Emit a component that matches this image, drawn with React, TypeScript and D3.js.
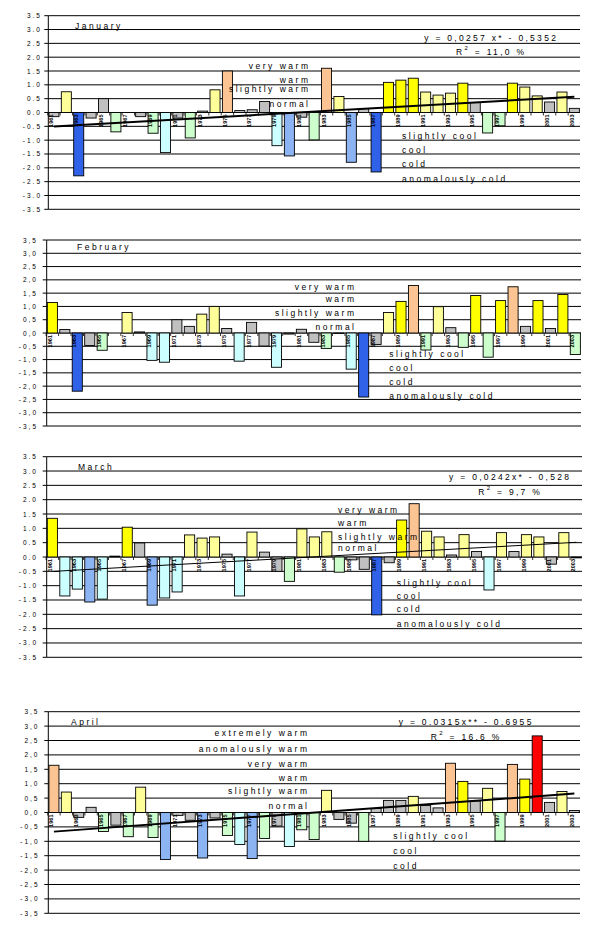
import React from 'react';
import * as d3 from 'd3';

// ---------- data ----------
const YEARS: number[] = d3.range(1961, 2004);

const Y_TICKS = [3.5, 3.0, 2.5, 2.0, 1.5, 1.0, 0.5, 0.0, -0.5, -1.0, -1.5, -2.0, -2.5, -3.0, -3.5];

const JAN_VALUES = [-0.15, 0.75, -2.29, -0.2, 0.5, -0.7, 0, -0.15, -0.75, -1.45, -0.2, -0.92, 0.05, 0.82, 1.5, 0.07, 0.1, 0.4, -1.2, -1.57, -0.17, -0.99, 1.6, 0.58, -1.8, 0.14, -2.15, 1.09, 1.17, 1.24, 0.74, 0.63, 0.7, 1.06, 0.36, -0.74, -0.48, 1.06, 0.92, 0.6, 0.38, 0.74, 0.15];
const JAN_CLASSES = ['n', 'sw', 'ac', 'n', 'n', 'sc', 'n', 'n', 'sc', 'c', 'n', 'sc', 'n', 'sw', 'vw', 'n', 'n', 'n', 'c', 'cd', 'n', 'sc', 'vw', 'sw', 'cd', 'n', 'ac', 'w', 'w', 'w', 'sw', 'sw', 'sw', 'w', 'n', 'sc', 'sc', 'w', 'sw', 'sw', 'n', 'sw', 'n'];

const FEB_VALUES = [1.15, 0.13, -2.19, -0.47, -0.65, 0, 0.77, 0.04, -1.03, -1.1, 0.5, 0.25, 0.71, 1.0, 0.17, -1.06, 0.4, -0.49, -1.29, -0.04, 0.14, -0.35, -0.58, -0.02, -1.36, -2.41, -0.43, 0.77, 1.19, 1.79, -0.64, 0.99, 0.2, -0.54, 1.41, -0.91, 1.22, 1.74, 0.25, 1.22, 0.17, 1.45, -0.81];
const FEB_CLASSES = ['w', 'n', 'ac', 'n', 'sc', 'n', 'sw', 'n', 'c', 'c', 'n', 'n', 'sw', 'sw', 'n', 'c', 'n', 'n', 'c', 'n', 'n', 'n', 'sc', 'n', 'c', 'ac', 'n', 'sw', 'w', 'vw', 'sc', 'sw', 'n', 'sc', 'w', 'sc', 'w', 'vw', 'n', 'w', 'n', 'w', 'sc'];

const MAR_VALUES = [1.35, -1.36, -1.12, -1.57, -1.47, 0.03, 1.04, 0.49, -1.68, -1.43, -1.22, 0.77, 0.66, 0.7, 0.1, -1.36, 0.87, 0.17, -0.5, -0.85, 0.98, 0.7, 0.88, -0.53, -0.1, -0.43, -2.02, -0.2, 1.29, 1.86, 0.9, 0.7, 0.07, 0.78, 0.19, -1.15, 0.85, 0.19, 0.78, 0.7, -0.25, 0.85, -0.03];
const MAR_CLASSES = ['w', 'c', 'c', 'cd', 'c', 'n', 'w', 'n', 'cd', 'c', 'c', 'sw', 'sw', 'sw', 'n', 'c', 'sw', 'n', 'n', 'sc', 'sw', 'sw', 'sw', 'sc', 'n', 'n', 'ac', 'n', 'w', 'vw', 'sw', 'sw', 'n', 'sw', 'n', 'c', 'sw', 'n', 'sw', 'sw', 'n', 'sw', 'n'];

const APR_VALUES = [1.64, 0.71, -0.17, 0.18, -0.66, -0.44, -0.84, 0.88, -0.87, -1.63, -0.1, -0.27, -1.58, -0.19, -0.8, -1.11, -1.6, -0.9, -0.47, -1.18, -0.6, -0.94, 0.77, -0.24, -0.37, -1.0, 0.14, 0.42, 0.42, 0.56, 0.24, 0.16, 1.71, 1.08, 0.4, 0.84, -0.99, 1.67, 1.16, 2.66, 0.35, 0.73, 0.07];
const APR_CLASSES = ['vw', 'sw', 'n', 'n', 'sc', 'n', 'sc', 'sw', 'sc', 'cd', 'n', 'n', 'cd', 'n', 'sc', 'c', 'cd', 'sc', 'n', 'c', 'sc', 'sc', 'sw', 'n', 'n', 'sc', 'n', 'n', 'n', 'sw', 'n', 'n', 'vw', 'w', 'n', 'sw', 'sc', 'vw', 'w', 'ew', 'n', 'sw', 'n'];

const JAN_TREND = { a: 0.0257, b: -0.5352 };
const MAR_TREND = { a: 0.0242, b: -0.528 };
const APR_TREND = { a: 0.0315, b: -0.6955 };

const JAN_EQ = ['y = 0,0257 x* - 0,5352', ' = 11,0 %'];
const MAR_EQ = ['y = 0,0242x* - 0,528', ' = 9,7 %'];
const APR_EQ = ['y = 0.0315x** - 0.6955', ' = 16.6 %'];

const UPPER_LABELS = ['very warm', 'warm', 'slightly warm', 'normal'];
const UPPER_LABELS_APR = ['extremely warm', 'anomalously warm', 'very warm', 'warm', 'slightly warm', 'normal'];
const LOWER_LABELS = ['slightly cool', 'cool', 'cold', 'anomalously cold'];
const LOWER_LABELS_APR = ['slightly cool', 'cool', 'cold'];

const COLORS: Record<string, string> = {
  n: '#C0C0C0',
  sw: '#FFFF99',
  w: '#FFFF00',
  vw: '#FCC393',
  ew: '#FF0000',
  sc: '#CCFFCC',
  c: '#CCFFFF',
  cd: '#8CB4F2',
  ac: '#2F62E8',
};

// ---------- layout ----------
const PANELS = [
  {
    name: 'January', values: JAN_VALUES, classes: JAN_CLASSES, dec: '.',
    top: 15.7, bottom: 209.3, x0: 48.3, x1: 580, tickR: 40,
    trend: JAN_TREND, trendW: 2, eq: JAN_EQ, eqPos: { x: 490, v1: 2.68, v2: 2.2 },
    titlePos: { x: 75, v: 3.13 },
    upper: { labels: UPPER_LABELS, anchor: 'end', x: 308, vs: [1.69, 1.175, 0.84, 0.3] },
    lower: { labels: LOWER_LABELS, x: 402, vs: [-0.85, -1.356, -1.86, -2.4] },
  },
  {
    name: 'February', values: FEB_VALUES, classes: FEB_CLASSES, dec: ',',
    top: 240, bottom: 426, x0: 46.7, x1: 581, tickR: 36,
    trend: null, trendW: 0, eq: null, eqPos: null,
    titlePos: { x: 77, v: 3.24 },
    upper: { labels: UPPER_LABELS, anchor: 'end', x: 354, vs: [1.74, 1.27, 0.76, 0.24] },
    lower: { labels: LOWER_LABELS, x: 389.3, vs: [-0.8, -1.31, -1.84, -2.36] },
  },
  {
    name: 'March', values: MAR_VALUES, classes: MAR_CLASSES, dec: '.',
    top: 456.7, bottom: 657.3, x0: 46.7, x1: 582, tickR: 36,
    trend: MAR_TREND, trendW: 1, eq: MAR_EQ, eqPos: { x: 509, v1: 2.8, v2: 2.28 },
    titlePos: { x: 78, v: 3.15 },
    upper: { labels: UPPER_LABELS, anchor: 'start', x: 338, vs: [1.63, 1.2, 0.7, 0.32] },
    lower: { labels: LOWER_LABELS, x: 396.7, vs: [-0.92, -1.35, -1.81, -2.34] },
  },
  {
    name: 'April', values: APR_VALUES, classes: APR_CLASSES, dec: ',',
    top: 711.7, bottom: 913.3, x0: 48.3, x1: 580, tickR: 37.5,
    trend: APR_TREND, trendW: 2, eq: APR_EQ, eqPos: { x: 465, v1: 3.13, v2: 2.63 },
    titlePos: { x: 71, v: 3.13 },
    upper: { labels: UPPER_LABELS_APR, anchor: 'end', x: 307, vs: [2.75, 2.19, 1.68, 1.19, 0.76, 0.24] },
    lower: { labels: LOWER_LABELS_APR, x: 393.3, vs: [-0.81, -1.34, -1.86] },
  },
];

const LS = 2.5; // letter spacing for labels

function fmt(v: number, dec: string) {
  const s = (v < 0 ? '-' : '') + Math.abs(v).toFixed(1);
  return s.replace('.', dec);
}

function Panel({ p }: { p: any }) {
  const y = d3.scaleLinear().domain([-3.5, 3.5]).range([p.bottom, p.top]);
  const x = d3.scaleBand<number>().domain(YEARS).range([p.x0, p.x1]).paddingInner(0.19).paddingOuter(0.05);
  const y0 = y(0);
  const bw = x.bandwidth();
  const step = x.step();
  const gridR = p.x1;

  const trendPts: [number, number][] = p.trend
    ? [1, YEARS.length].map((i) => [x(YEARS[i - 1])! + bw / 2, y(p.trend.a * i + p.trend.b)])
    : [];
  const line = d3.line();

  const endAdj = (anchor: string) => (anchor === 'end' ? LS : 0);

  return (
    <g>
      {/* gridlines */}
      {Y_TICKS.map((t) => (
        <line key={'g' + t} x1={p.x0} x2={gridR} y1={y(t)} y2={y(t)} stroke="#000" strokeWidth={1} />
      ))}
      {/* y axis */}
      <line x1={p.x0} x2={p.x0} y1={p.top} y2={p.bottom} stroke="#000" strokeWidth={1} />
      {Y_TICKS.map((t) => (
        <line key={'t' + t} x1={p.x0 - 4} x2={p.x0} y1={y(t)} y2={y(t)} stroke="#000" strokeWidth={1} />
      ))}
      {Y_TICKS.map((t) => (
        <text key={'l' + t} x={p.tickR + 2} y={y(t)} textAnchor="end" dominantBaseline="central"
          fontSize={6.5} style={{ letterSpacing: '2px' }} fill="#000">
          {fmt(t, p.dec)}
        </text>
      ))}
      {/* bars */}
      {YEARS.map((yr, i) => {
        const v = p.values[i];
        const yv = y(v);
        const h = Math.abs(yv - y0);
        if (h < 0.2) return null;
        return (
          <rect key={'b' + yr} x={x(yr)} y={Math.min(yv, y0)} width={bw} height={h}
            fill={COLORS[p.classes[i]]} stroke="#000" strokeWidth={0.9} />
        );
      })}
      {/* category ticks */}
      {YEARS.map((yr) => (
        <line key={'xt' + yr} x1={x(yr)! - (step - bw) / 2} x2={x(yr)! - (step - bw) / 2} y1={y0} y2={y0 + 3}
          stroke="#000" strokeWidth={0.8} />
      ))}
      {/* year labels */}
      {YEARS.filter((yr) => yr % 2 === 1).map((yr) => {
        const lx = x(yr)! + 2.2;
        const ly = y0 + 2;
        return (
          <text key={'yl' + yr} x={0} y={0} transform={`translate(${lx},${ly}) rotate(-90)`}
            textAnchor="end" dominantBaseline="central" fontSize={5.6} fontWeight="bold" fill="#000">
            {yr}
          </text>
        );
      })}
      {/* trend */}
      {p.trend && (
        <path d={line(trendPts) || ''} fill="none" stroke="#000" strokeWidth={p.trendW} />
      )}
      {/* title */}
      <text x={p.titlePos.x} y={y(p.titlePos.v)} dominantBaseline="central" fontSize={8.5}
        style={{ letterSpacing: `${LS}px` }} fill="#000">
        {p.name}
      </text>
      {/* upper labels */}
      {p.upper.labels.map((s: string, i: number) => (
        <text key={'u' + s} x={p.upper.x + endAdj(p.upper.anchor)} y={y(p.upper.vs[i])}
          textAnchor={p.upper.anchor} dominantBaseline="central" fontSize={8.5}
          style={{ letterSpacing: `${LS}px` }} fill="#000">
          {s}
        </text>
      ))}
      {/* lower labels */}
      {p.lower.labels.map((s: string, i: number) => (
        <text key={'lo' + s} x={p.lower.x} y={y(p.lower.vs[i])} dominantBaseline="central" fontSize={8.5}
          style={{ letterSpacing: `${LS}px` }} fill="#000">
          {s}
        </text>
      ))}
      {/* equation */}
      {p.eq && (
        <g>
          <text x={p.eqPos.x + 1.2} y={y(p.eqPos.v1)} textAnchor="middle" dominantBaseline="central"
            fontSize={8.5} style={{ letterSpacing: '2.3px' }} fill="#000">
            {p.eq[0]}
          </text>
          <text x={p.eqPos.x + 1.2} y={y(p.eqPos.v2)} textAnchor="middle" dominantBaseline="central"
            fontSize={8.5} style={{ letterSpacing: '2.3px' }} fill="#000">
            R<tspan fontSize={6} dy={-4}>2</tspan><tspan dy={4}>{p.eq[1]}</tspan>
          </text>
        </g>
      )}
    </g>
  );
}

export default function App() {
  return (
    <svg width={607} height={930} viewBox="0 0 607 930"
      style={{ position: 'absolute', left: 0, top: 0, background: '#fff', display: 'block' }}
      fontFamily="'Liberation Sans', Arial, sans-serif">
      <rect x={0} y={0} width={607} height={930} fill="#fff" />
      {PANELS.map((p) => (
        <Panel key={p.name} p={p} />
      ))}
    </svg>
  );
}
